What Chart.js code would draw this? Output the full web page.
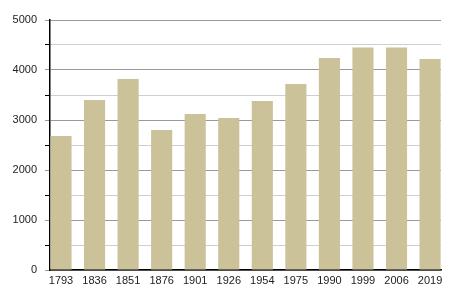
<!DOCTYPE html>
<html>
<head>
<meta charset="utf-8">
<script src="https://cdn.jsdelivr.net/npm/chart.js@4/dist/chart.umd.min.js"></script>
<style>
  html, body { margin: 0; padding: 0; background: #fff; }
  #chart { width: 450px; height: 300px; }
</style>
</head>
<body>
<div id="chart"><canvas id="myChart" width="450" height="300"></canvas></div>
<script>
// population par recensement
const years = ['1793', '1836', '1851', '1876', '1901', '1926', '1954', '1975', '1990', '1999', '2006', '2019'];
const population = [2680, 3400, 3820, 2800, 3120, 3040, 3380, 3720, 4240, 4450, 4450, 4220];
const yTicks = [0, 1000, 2000, 3000, 4000, 5000];

const points = years.map((y, i) => ({ x: i, y: population[i] }));

new Chart(document.getElementById('myChart'), {
    type: 'bar',
    data: {
        datasets: [{
            data: points,
            backgroundColor: '#cbc29a',
            borderWidth: 0,
            barPercentage: 0.63,
            categoryPercentage: 1
        }]
    },
    options: {
        responsive: false,
        animation: false,
        layout: { padding: { top: 20, right: 9, left: 0, bottom: 0 } },
        plugins: { legend: { display: false }, tooltip: { enabled: false } },
        scales: {
            x: {
                type: 'linear',
                offset: false,
                min: -0.328,
                max: 11.326,
                grid: { display: false, offset: false },
                border: { color: '#000', width: 1.5 },
                afterFit: (s) => { s.height = 30; },
                ticks: {
                    stepSize: 1,
                    includeBounds: false,
                    autoSkip: false,
                    maxRotation: 0,
                    padding: -4,
                    color: '#222',
                    font: { family: 'Liberation Sans', size: 11 },
                    callback: (v) => Number.isInteger(v) ? years[v] : ''
                }
            },
            y: {
                min: 0,
                max: 5000,
                afterFit: (s) => { s.width = 50; },
                border: { color: '#000', width: 1.5 },
                grid: {
                    color: (c) => c.tick && c.tick.value % 1000 === 0 ? '#9a9a9a' : '#cfcfcf',
                    tickColor: (c) => c.tick && c.tick.value % 1000 === 0 ? '#9a9a9a' : '#000',
                    tickLength: 5
                },
                ticks: {
                    stepSize: 500,
                    padding: 8,
                    color: '#222',
                    font: { family: 'Liberation Sans', size: 11 },
                    callback: (v) => yTicks.includes(v) ? v : ''
                }
            }
        }
    }
});
</script>
</body>
</html>
